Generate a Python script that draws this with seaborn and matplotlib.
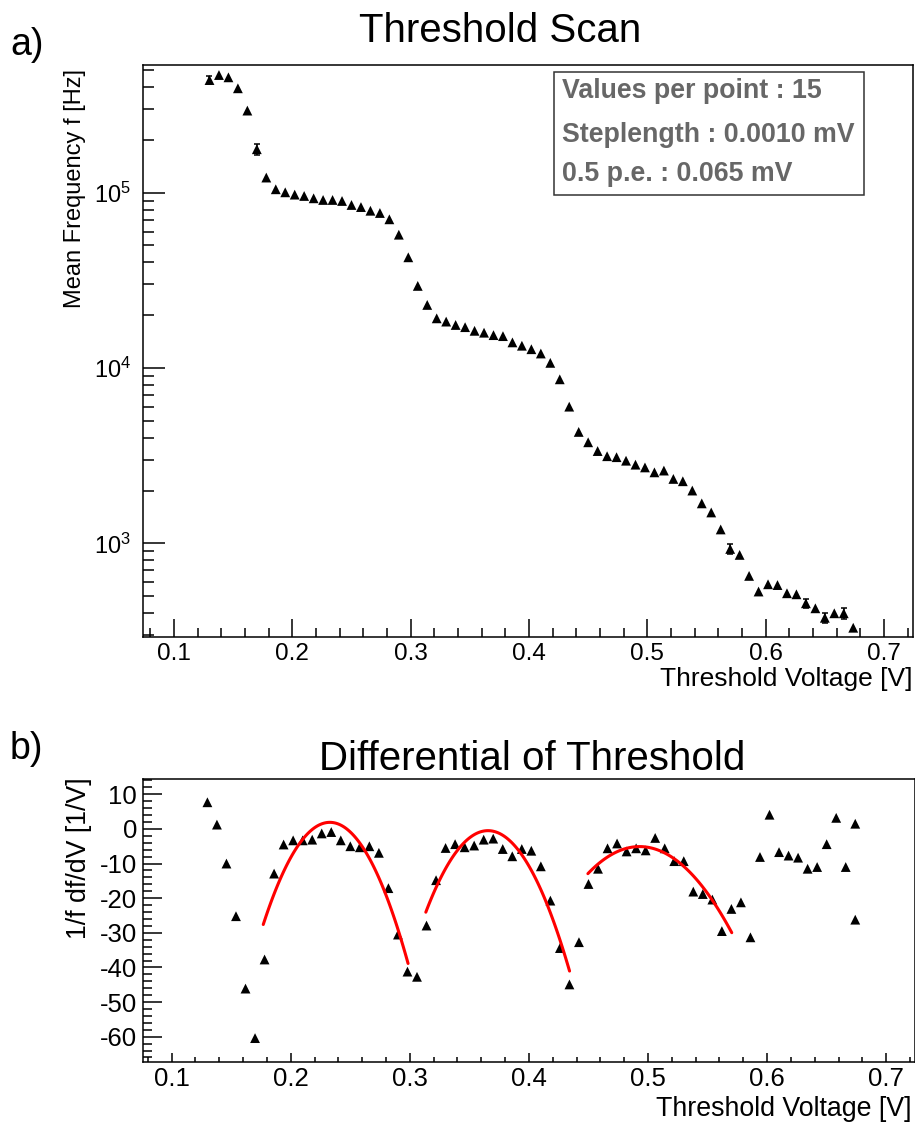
import numpy as np
import matplotlib
matplotlib.use('Agg')
import matplotlib.pyplot as plt
import seaborn as sns
from matplotlib.ticker import MultipleLocator, LogLocator, NullFormatter, LogFormatterMathtext
from matplotlib.patches import Rectangle

# threshold scan points (V)
voltage = [0.130, 0.138, 0.146, 0.154, 0.162, 0.170, 0.178, 0.186, 0.194, 0.202,
           0.210, 0.218, 0.226, 0.234, 0.242, 0.250, 0.258, 0.266, 0.274, 0.282,
           0.290, 0.298, 0.306, 0.314, 0.322, 0.330, 0.338, 0.346, 0.354, 0.362,
           0.370, 0.378, 0.386, 0.394, 0.402, 0.410, 0.418, 0.426, 0.434, 0.442,
           0.450, 0.458, 0.466, 0.474, 0.482, 0.490, 0.498, 0.506, 0.514, 0.522,
           0.530, 0.538, 0.546, 0.554, 0.562, 0.570, 0.578, 0.586, 0.594, 0.602,
           0.610, 0.618, 0.626, 0.634, 0.642, 0.650, 0.658, 0.666, 0.674]

# mean frequency (Hz)
frequency = [4.39e5, 4.69e5, 4.55e5, 3.94e5, 2.94e5, 1.77e5, 1.22e5, 1.046e5, 1.005e5, 9.75e4,
             9.58e4, 9.29e4, 9.09e4, 9.09e4, 8.97e4, 8.51e4, 8.28e4, 7.89e4, 7.66e4, 7.05e4,
             5.76e4, 4.28e4, 2.94e4, 2.29e4, 1.92e4, 1.84e4, 1.76e4, 1.71e4, 1.63e4, 1.59e4,
             1.54e4, 1.52e4, 1.40e4, 1.34e4, 1.28e4, 1.21e4, 1.07e4, 8.62e3, 6.02e3, 4.32e3,
             3.77e3, 3.36e3, 3.14e3, 3.10e3, 2.96e3, 2.81e3, 2.71e3, 2.54e3, 2.60e3, 2.33e3,
             2.26e3, 2.00e3, 1.69e3, 1.50e3, 1.20e3, 929, 859, 652, 531, 584,
             578, 519, 512, 455, 426, 376, 399, 399, 330]

# error on the mean (only the visible ones)
frequency_err = [2.4e4, 0, 0, 0, 0, 1.2e4, 0, 0, 0, 0,
                 0, 0, 0, 0, 0, 0, 0, 0, 0, 0,
                 0, 0, 0, 0, 0, 0, 0, 0, 0, 0,
                 0, 0, 0, 0, 0, 0, 0, 0, 0, 0,
                 0, 0, 0, 0, 0, 0, 0, 0, 0, 0,
                 0, 0, 0, 0, 0, 65, 0, 0, 0, 0,
                 0, 0, 0, 25, 0, 23, 0, 28, 0]

# differential 1/f df/dV (1/V)
diff_voltage = voltage + [0.674]
diff_value = [7.7, 1.25, -10.0, -25.2, -46.1, -60.4, -37.7, -12.9, -4.5, -3.3,
              -3.3, -3.1, -1.3, -0.9, -3.3, -5.0, -5.3, -5.0, -6.9, -17.1,
              -30.5, -41.2, -42.7, -27.9, -14.8, -5.5, -4.4, -5.3, -4.8, -3.1,
              -2.8, -5.8, -7.9, -5.8, -6.3, -10.8, -20.7, -34.4, -44.9, -32.7,
              -15.9, -11.5, -5.6, -4.2, -6.5, -5.6, -6.2, -2.6, -5.6, -9.3,
              -9.3, -18.1, -18.8, -20.4, -29.5, -23.1, -21.2, -31.3, -8.1, 4.1,
              -6.7, -7.7, -8.3, -11.5, -11.0, -4.4, 3.2, -11.0, 1.5, -26.2]

# parabola fits: y = curv * (x - peak_v)^2 + peak_val on [fit_lo, fit_hi]
fit_peak_v = [0.2328, 0.3656, 0.4929]
fit_peak_val = [1.9, -0.5, -5.1]
fit_curv = [-9440, -8640, -4150]
fit_lo = [0.1769, 0.3134, 0.4495]
fit_hi = [0.2985, 0.4341, 0.5703]

stats_lines = ['Values per point : 15', 'Steplength : 0.0010 mV', '0.5 p.e. : 0.065 mV']

sns.set_style('ticks')
plt.rcParams['font.family'] = ['Liberation Sans', 'DejaVu Sans']
plt.rcParams['mathtext.fontset'] = 'custom'
plt.rcParams['mathtext.rm'] = 'Liberation Sans'
plt.rcParams['mathtext.it'] = 'Liberation Sans:italic'
plt.rcParams['mathtext.bf'] = 'Liberation Sans:bold'
plt.rcParams['axes.unicode_minus'] = False
plt.rcParams['text.color'] = 'black'
plt.rcParams['axes.labelcolor'] = 'black'
plt.rcParams['xtick.color'] = 'black'
plt.rcParams['ytick.color'] = 'black'

W, H = 915, 1122
fig = plt.figure(figsize=(W / 100, H / 100), dpi=100)


def px_box(l, t, r, b):
    return [l / W, 1 - b / H, (r - l) / W, (b - t) / H]


def fx(x):
    return x / W


def fy(y):
    return 1 - y / H


ax1 = fig.add_axes(px_box(142.7, 65, 913, 637))
ax2 = fig.add_axes(px_box(142.7, 779.3, 914.5, 1062))

tick_fs = 17.5

# --- a) threshold scan ---
ax1.set_yscale('log')
sns.scatterplot(x=voltage, y=frequency, marker='^', s=50, color='black',
                edgecolor='none', ax=ax1, zorder=3)
err = np.array(frequency_err)
m = err > 0
ax1.errorbar(np.array(voltage)[m], np.array(frequency)[m], yerr=err[m], fmt='none',
             ecolor='black', elinewidth=1.1, capsize=2.3, capthick=1.1, zorder=2)
ax1.set_xlim(0.07355, 0.72451)
ax1.set_ylim(292.2, 5.35e5)
ax1.xaxis.set_major_locator(MultipleLocator(0.1))
ax1.xaxis.set_minor_locator(MultipleLocator(0.02))
ax1.yaxis.set_major_locator(LogLocator(base=10))
ax1.yaxis.set_major_formatter(LogFormatterMathtext())
ax1.yaxis.set_minor_locator(LogLocator(base=10, subs=np.arange(2, 10)))
ax1.yaxis.set_minor_formatter(NullFormatter())
ax1.tick_params(axis='x', which='major', direction='in', length=13, width=1.1,
                labelsize=tick_fs, pad=4.5)
ax1.tick_params(axis='x', which='minor', direction='in', length=6.5, width=1.1)
ax1.tick_params(axis='y', which='major', direction='in', length=15.8, width=1.1,
                labelsize=17, pad=8.5)
ax1.tick_params(axis='y', which='minor', direction='in', length=8, width=1.1)
ax1.set_xlabel('')
ax1.set_ylabel('')

# --- b) differential ---
sns.scatterplot(x=diff_voltage, y=diff_value, marker='^', s=50, color='black',
                edgecolor='none', ax=ax2, zorder=3)
for pv, pk, cv, lo, hi in zip(fit_peak_v, fit_peak_val, fit_curv, fit_lo, fit_hi):
    xx = np.linspace(lo, hi, 120)
    yy = cv * (xx - pv) ** 2 + pk
    sns.lineplot(x=xx, y=yy, color='red', linewidth=2.2, sort=False,
                 estimator=None, ax=ax2, zorder=4)
ax2.set_xlim(0.07567, 0.72375)
ax2.set_ylim(-67.3, 14.33)
ax2.xaxis.set_major_locator(MultipleLocator(0.1))
ax2.xaxis.set_minor_locator(MultipleLocator(0.02))
ax2.yaxis.set_major_locator(MultipleLocator(10))
ax2.yaxis.set_minor_locator(MultipleLocator(2))
ax2.tick_params(axis='x', which='major', direction='in', length=6.7, width=1.1,
                labelsize=18.5, pad=3.8)
ax2.tick_params(axis='x', which='minor', direction='in', length=3.6, width=1.1)
ax2.tick_params(axis='y', which='major', direction='in', length=13.5, width=1.1,
                labelsize=18.5, pad=4.0)
ax2.tick_params(axis='y', which='minor', direction='in', length=6.5, width=1.1)
ax2.set_xlabel('')
ax2.set_ylabel('')

for ax in (ax1, ax2):
    ax.tick_params(which='both', top=False, right=False, colors='black')
    for sp in ax.spines.values():
        sp.set_visible(True)
        sp.set_linewidth(1.1)
        sp.set_color('black')

# titles, panel tags and axis labels
fig.text(fx(500), fy(42), 'Threshold Scan', fontsize=29, ha='center', va='baseline')
fig.text(fx(532), fy(770), 'Differential of Threshold', fontsize=29, ha='center', va='baseline')
fig.text(fx(10), fy(55), 'a)', fontsize=27, ha='left', va='baseline')
fig.text(fx(10), fy(759), 'b)', fontsize=27, ha='left', va='baseline')
fig.text(fx(75), fy(69), 'Mean Frequency f [Hz]', fontsize=17, rotation=90,
         ha='center', va='top')
fig.text(fx(79), fy(777), '1/f df/dV [1/V]', fontsize=19.3, rotation=90,
         ha='center', va='top')
fig.text(fx(912), fy(686), 'Threshold Voltage [V]', fontsize=19, ha='right', va='baseline')
fig.text(fx(912), fy(1116), 'Threshold Voltage [V]', fontsize=19.3, ha='right', va='baseline')

# stats box
fig.patches.append(Rectangle((fx(554), fy(195)), fx(864) - fx(554), fy(72) - fy(195),
                             transform=fig.transFigure, fill=False, edgecolor='#333333',
                             linewidth=1.1))
for txt, yb in zip(stats_lines, [97.7, 141.7, 180.7]):
    fig.text(fx(562), fy(yb), txt, fontsize=19.3, fontweight='bold', color='#676767',
             ha='left', va='baseline')

fig.savefig('out.png', dpi=100)
